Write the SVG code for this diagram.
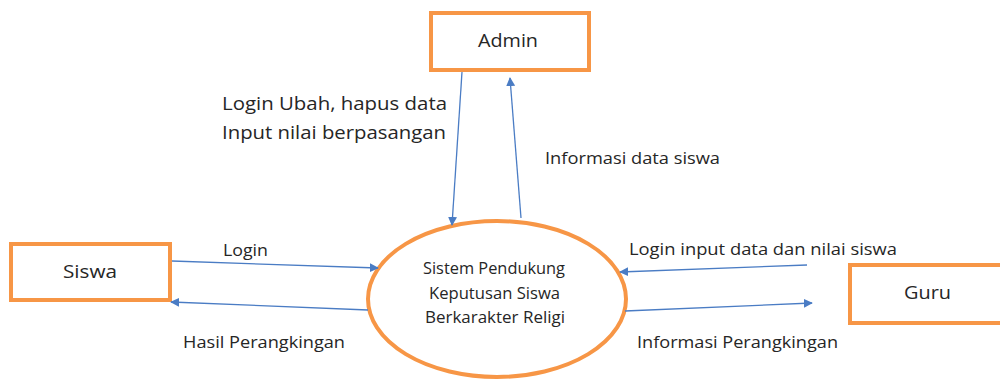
<svg xmlns="http://www.w3.org/2000/svg" width="1000" height="379" viewBox="0 0 1000 379">
<style>
.box{fill:#fff;stroke:#F79646;stroke-width:4}
.t{font-family:"Open Sans","Liberation Sans",sans-serif;fill:#262626}
.c{stroke:#4A7CC4;stroke-width:1.3;fill:none;marker-end:url(#ah)}
</style>
<defs>
<marker id="ah" viewBox="0 0 10 10" refX="9" refY="5" markerWidth="9" markerHeight="9" markerUnits="userSpaceOnUse" orient="auto">
<path d="M0,0 L10,5 L0,10 Z" fill="#4A7CC4"/>
</marker>
</defs>
<rect width="1000" height="379" fill="#fff"/>
<g id="admin">
<rect class="box" x="431" y="13" width="158" height="57"/>
<text class="t" x="478" y="47" font-size="19" textLength="60" lengthAdjust="spacingAndGlyphs">Admin</text>
</g>
<g id="siswa">
<rect class="box" x="11" y="244" width="159" height="56"/>
<text class="t" x="63" y="278" font-size="19" textLength="54" lengthAdjust="spacingAndGlyphs">Siswa</text>
</g>
<g id="guru">
<rect class="box" x="850" y="265" width="160" height="58"/>
<text class="t" x="904" y="299" font-size="19" textLength="47" lengthAdjust="spacingAndGlyphs">Guru</text>
</g>
<g id="sistem">
<ellipse cx="497" cy="299" rx="129" ry="78" fill="#fff" stroke="#F79646" stroke-width="4"/>
<text class="t" x="423" y="274" font-size="15.5" textLength="142" lengthAdjust="spacingAndGlyphs">Sistem Pendukung</text>
<text class="t" x="429" y="299" font-size="15.5" textLength="131" lengthAdjust="spacingAndGlyphs">Keputusan Siswa</text>
<text class="t" x="425" y="323" font-size="15.5" textLength="140" lengthAdjust="spacingAndGlyphs">Berkarakter Religi</text>
</g>
<g id="connectors">
<path class="c" d="M462,72 L452,225"/>
<path class="c" d="M521,218 L510,78"/>
<path class="c" d="M172,261 L378,268"/>
<path class="c" d="M368,310 L171,302"/>
<path class="c" d="M807,265 L620,272"/>
<path class="c" d="M625,311 L812,303"/>
</g>
<g id="labels">
<text class="t" x="222" y="110" font-size="19" textLength="225" lengthAdjust="spacingAndGlyphs">Login Ubah, hapus data</text>
<text class="t" x="222" y="139" font-size="19" textLength="224" lengthAdjust="spacingAndGlyphs">Input nilai berpasangan</text>
<text class="t" x="545" y="164" font-size="16.5" textLength="175" lengthAdjust="spacingAndGlyphs">Informasi data siswa</text>
<text class="t" x="223" y="256" font-size="16.5" textLength="45" lengthAdjust="spacingAndGlyphs">Login</text>
<text class="t" x="183" y="348" font-size="16.5" textLength="162" lengthAdjust="spacingAndGlyphs">Hasil Perangkingan</text>
<text class="t" x="629" y="255" font-size="16.5" textLength="268" lengthAdjust="spacingAndGlyphs">Login input data dan nilai siswa</text>
<text class="t" x="637" y="348" font-size="16.5" textLength="201" lengthAdjust="spacingAndGlyphs">Informasi Perangkingan</text>
</g>
</svg>
